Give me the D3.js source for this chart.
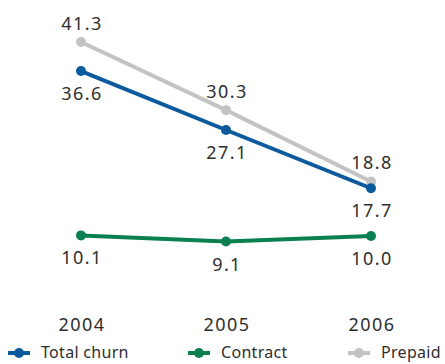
<!DOCTYPE html>
<html>
<head>
<meta charset="utf-8">
<script src="https://cdn.jsdelivr.net/npm/d3@7"></script>
<style>
  body { margin: 0; background: #fff; }
  text { font-family: "Noto Sans", sans-serif; fill: #2e2e2e; }
</style>
</head>
<body>
<div id="chart"></div>
<script>
// data
var years = ["2004", "2005", "2006"]
var totalChurn = [36.6, 27.1, 17.7]
var contract = [10.1, 9.1, 10.0]
var prepaid = [41.3, 30.3, 18.8]

var seriesNames = ["Total churn", "Contract", "Prepaid"]
var seriesColors = ["#0b5a9e", "#0a8050", "#c3c3c3"]

var width = 445, height = 364

var svg = d3.select("#chart")
  .append("svg")
    .attr("width", width)
    .attr("height", height)

var x = d3.scalePoint()
  .domain(years)
  .range([81, 371])

var y = d3.scaleLinear()
  .domain([0, 45])
  .range([298, 19])

// series, drawn prepaid first so total churn sits on top
var series = [
  {name: seriesNames[2], values: prepaid, color: seriesColors[2], pos: "above"},
  {name: seriesNames[1], values: contract, color: seriesColors[1], pos: "below"},
  {name: seriesNames[0], values: totalChurn, color: seriesColors[0], pos: "below"}
]

var line = d3.line()
  .x(function(d, i) { return x(years[i]) })
  .y(function(d) { return y(d) })

series.forEach(function(s) {
  svg.append("path")
    .attr("d", line(s.values))
    .attr("fill", "none")
    .attr("stroke", s.color)
    .attr("stroke-width", 4)

  svg.selectAll(null)
    .data(s.values)
    .enter()
    .append("circle")
      .attr("cx", function(d, i) { return x(years[i]) })
      .attr("cy", function(d) { return y(d) })
      .attr("r", 5)
      .attr("fill", s.color)

  svg.selectAll(null)
    .data(s.values)
    .enter()
    .append("text")
      .attr("x", function(d, i) { return x(years[i]) + 1 })
      .attr("y", function(d) { return s.pos == "above" ? y(d) - 12 : y(d) + 29 })
      .attr("text-anchor", "middle")
      .style("font-size", "18px")
      .style("letter-spacing", "1.4px")
      .text(function(d) { return d.toFixed(1) })
})

// x axis labels (no axis line)
svg.selectAll(null)
  .data(years)
  .enter()
  .append("text")
    .attr("x", function(d) { return x(d) + 1 })
    .attr("y", 331)
    .attr("text-anchor", "middle")
    .style("font-size", "18px")
    .style("letter-spacing", "1.4px")
    .text(function(d) { return d })

// legend
var legendX = [8, 188, 348]
seriesNames.forEach(function(name, i) {
  var g = svg.append("g").attr("transform", "translate(" + legendX[i] + ",353)")
  g.append("line")
    .attr("x1", 0).attr("x2", 22)
    .attr("stroke", seriesColors[i])
    .attr("stroke-width", 4)
  g.append("circle")
    .attr("cx", 11).attr("r", 5)
    .attr("fill", seriesColors[i])
  g.append("text")
    .attr("x", 33).attr("y", 5)
    .style("font-size", "16px")
    .style("letter-spacing", "0.3px")
    .text(name)
})
</script>
</body>
</html>
